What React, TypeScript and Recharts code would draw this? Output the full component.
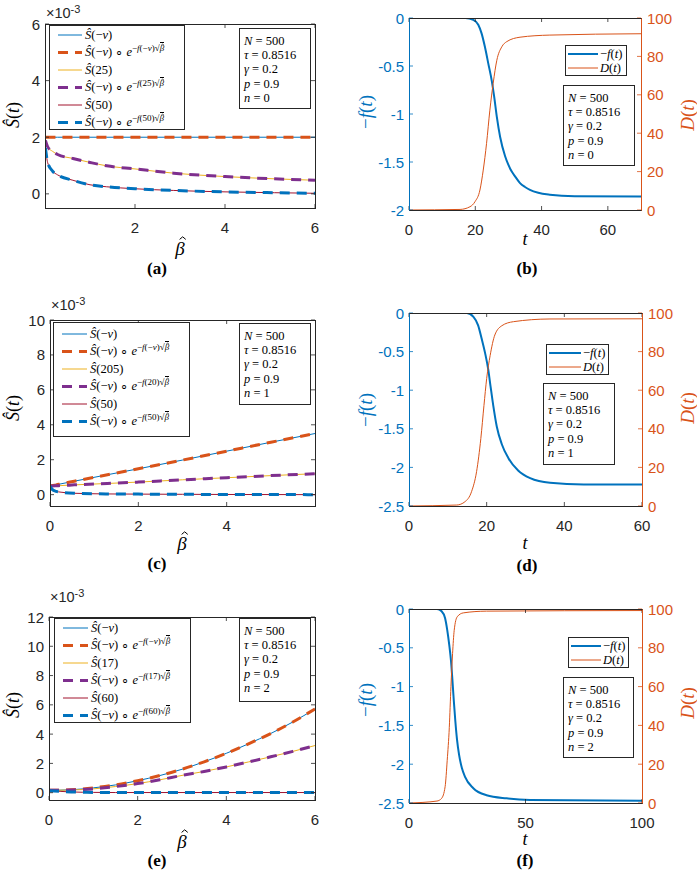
import React from 'react';
import { LineChart, Line, XAxis, YAxis } from 'recharts';

const SANS = '"Liberation Sans", Arial, Helvetica, sans-serif';
const SERIF = '"Liberation Serif", "Times New Roman", serif';
const AX = '#262626';
const BLUE = '#0072BD';
const ORANGE = '#D95319';
const YELLOW = '#EDB120';
const PURPLE = '#7E2F8E';
const RED = '#A2142F';
const DASH = '10 7';

// ---------- panel (a) ----------
const aBeta = [0.01, 0.06, 0.17, 0.28, 0.62, 1.0, 1.37, 2.0, 2.86, 4.0, 5.1, 6.0];
const aSnu = [2, 2, 2, 2, 2, 2, 2, 2, 2, 2, 2, 2];
const aS25 = [1.89, 1.66, 1.5, 1.39, 1.25, 1.11, 0.99, 0.88, 0.73, 0.61, 0.53, 0.48];
const aS50 = [1.62, 1.1, 0.8, 0.67, 0.48, 0.32, 0.25, 0.18, 0.12, 0.07, 0.04, 0.02];
const aSolidArgs = ['−ν', '25', '50'];
const aExpArgs = ['−ν', '25', '50'];
const aParams = ['500', '0.8516', '0.2', '0.9', '0'];

// ---------- panel (c) ----------
const cBeta = [0, 0.05, 0.14, 0.25, 0.55, 1.3, 2, 3, 4, 5, 6];
const cSnu = [0.49, 0.52, 0.56, 0.62, 0.77, 1.14, 1.48, 1.98, 2.49, 3.0, 3.5];
const cS20 = [0.49, 0.5, 0.51, 0.52, 0.56, 0.64, 0.72, 0.85, 0.97, 1.09, 1.2];
const cS50 = [0.47, 0.3, 0.19, 0.14, 0.08, 0.04, 0.03, 0.02, 0.01, 0.005, 0.0];
const cSolidArgs = ['−ν', '205', '50'];
const cExpArgs = ['−ν', '20', '50'];
const cParams = ['500', '0.8516', '0.2', '0.9', '1'];

// ---------- panel (e) ----------
const eBeta = [0, 0.5, 1, 1.5, 2, 2.5, 3, 3.5, 4, 4.5, 5, 5.5, 6];
const eSnu = [0.16, 0.2, 0.33, 0.53, 0.82, 1.17, 1.6, 2.11, 2.69, 3.34, 4.04, 4.83, 5.72];
const eS17 = [0.16, 0.18, 0.26, 0.42, 0.62, 0.88, 1.18, 1.45, 1.76, 2.1, 2.45, 2.82, 3.22];
const eS60 = [0.14, 0.05, 0.02, 0.01, 0.01, 0.01, 0.01, 0.01, 0.01, 0.01, 0.01, 0.01, 0.01];
const eSolidArgs = ['−ν', '17', '60'];
const eExpArgs = ['−ν', '17', '60'];
const eParams = ['500', '0.8516', '0.2', '0.9', '2'];

// ---------- panel (b) ----------
const bT = [0, 10, 17, 19.4, 20.9, 21.9, 22.9, 23.9, 25, 25.7, 26.5, 27.5, 29, 30, 31, 32, 33.5, 35, 36.5, 39, 42.5, 50, 70];
const bF = [0, 0, 0, -0.02, -0.07, -0.16, -0.3, -0.47, -0.66, -0.82, -1.03, -1.24, -1.44, -1.53, -1.6, -1.65, -1.72, -1.76, -1.79, -1.82, -1.84, -1.856, -1.86];
const bDT = [0, 15.4, 18.4, 19.9, 21.4, 22.4, 23.4, 24.4, 25.4, 26.5, 28, 29.5, 33.5, 42.5, 70];
const bD = [0, 0.3, 1.7, 4.3, 10.4, 20.8, 34.7, 52, 66, 78, 85, 87.7, 90, 91.1, 91.8];
const bParams = ['500', '0.8516', '0.2', '0.9', '0'];

// ---------- panel (d) ----------
const dT = [0, 14.9, 16.6, 17.8, 18.7, 19.6, 20.4, 21, 21.7, 22.6, 23.9, 25.6, 28.1, 31.2, 36.3, 45, 60];
const dF = [0, 0, -0.05, -0.16, -0.33, -0.52, -0.73, -0.95, -1.2, -1.47, -1.7, -1.88, -2.04, -2.14, -2.2, -2.22, -2.22];
const dDT = [0, 12.3, 14.4, 16.1, 17.4, 18.5, 19.3, 20, 20.9, 22.1, 23.9, 26.9, 36.3, 60];
const dD = [0, 0.5, 2.2, 7.4, 17.8, 35, 52, 66, 78, 88.6, 93.4, 95.5, 96.9, 97];
const dParams = ['500', '0.8516', '0.2', '0.9', '1'];

// ---------- panel (f) ----------
const fT = [0, 12, 14, 15.5, 16.4, 17.3, 18.0, 18.6, 19.2, 19.9, 20.6, 21.5, 22.7, 24, 27.6, 33.3, 41.9, 52, 100];
const fF = [0, 0, -0.03, -0.12, -0.27, -0.47, -0.66, -0.9, -1.17, -1.45, -1.68, -1.88, -2.05, -2.16, -2.31, -2.4, -2.44, -2.46, -2.47];
const fDT = [0, 12, 14, 15.5, 16.4, 17.3, 18, 18.7, 19.4, 20.7, 23.3, 33.3, 100];
const fD = [0, 1, 2.4, 8.4, 22, 39, 60, 77, 89, 96, 98, 98.9, 99.2];
const fParams = ['500', '0.8516', '0.2', '0.9', '2'];

const paramNames = ['N', 'τ', 'γ', 'p', 'n'];

const betaTicksA = [2, 4, 6];
const betaTicksC = [0, 2, 4];
const betaTicksE = [0, 2, 4, 6];
const sTicksA = [0, 2, 4, 6];
const sTicksC = [0, 2, 4, 6, 8, 10];
const sTicksE = [0, 2, 4, 6, 8, 10, 12];
const fTicks2 = [-2, -1.5, -1, -0.5, 0];
const fTicks25 = [-2.5, -2, -1.5, -1, -0.5, 0];
const dTicks = [0, 20, 40, 60, 80, 100];

type Pt = { x: number; y: number };
const toPts = (xs: number[], ys: number[]): Pt[] => xs.map((x, i) => ({ x, y: ys[i] }));

interface Series { pts: Pt[]; color: string; width: number; dash?: string; right?: boolean }
interface AxisCfg { domain: [number, number]; ticks: number[]; color: string }
interface PanelCfg { L: number; T: number; R: number; B: number; x: AxisCfg; y: AxisCfg; y2?: AxisCfg; series: Series[] }

function Panel({ cfg }: { cfg: PanelCfg }) {
  const pw = cfg.R - cfg.L;
  const ph = cfg.B - cfg.T;
  const ML = 52, MT = 12, MB = 34;
  const MR = cfg.y2 ? 52 : 12;
  const W = ML + pw + MR;
  const H = MT + ph + MB;
  const bot = MT + ph;
  const rgt = ML + pw;
  const TL = 4;
  const fs = 15;
  const xTick = (p: any) => (
    <g>
      <line x1={p.x} x2={p.x} y1={bot} y2={bot - TL} stroke={AX} strokeWidth={0.8} />
      <line x1={p.x} x2={p.x} y1={MT} y2={MT + TL} stroke={AX} strokeWidth={0.8} />
      <text x={p.x} y={bot + 19} textAnchor="middle" dominantBaseline="central" fill={cfg.x.color} fontSize={fs} fontFamily={SANS}>
        {String(p.payload.value)}
      </text>
    </g>
  );
  const yTick = (p: any) => (
    <g>
      <line x1={ML} x2={ML + TL} y1={p.y} y2={p.y} stroke={cfg.y.color} strokeWidth={0.8} />
      {!cfg.y2 && <line x1={rgt} x2={rgt - TL} y1={p.y} y2={p.y} stroke={AX} strokeWidth={0.8} />}
      <text x={ML - 5} y={p.y} textAnchor="end" dominantBaseline="central" fill={cfg.y.color} fontSize={fs} fontFamily={SANS}>
        {String(p.payload.value)}
      </text>
    </g>
  );
  const y2Tick = (p: any) => (
    <g>
      <line x1={rgt} x2={rgt - TL} y1={p.y} y2={p.y} stroke={cfg.y2 ? cfg.y2.color : AX} strokeWidth={0.8} />
      <text x={rgt + 6} y={p.y} textAnchor="start" dominantBaseline="central" fill={cfg.y2 ? cfg.y2.color : AX} fontSize={fs} fontFamily={SANS}>
        {String(p.payload.value)}
      </text>
    </g>
  );
  return (
    <div style={{ position: 'absolute', left: cfg.L - ML, top: cfg.T - MT, width: W, height: H }}>
      <LineChart width={W} height={H} margin={{ top: MT, right: cfg.y2 ? 0 : MR, bottom: 0, left: 0 }}>
        <XAxis type="number" dataKey="x" domain={cfg.x.domain} ticks={cfg.x.ticks} allowDataOverflow interval={0}
          height={MB} axisLine={false} tickLine={false} tick={xTick} />
        <YAxis yAxisId="l" type="number" dataKey="y" domain={cfg.y.domain} ticks={cfg.y.ticks} allowDataOverflow interval={0}
          width={ML} axisLine={false} tickLine={false} tick={yTick} />
        {cfg.y2 && (
          <YAxis yAxisId="r" orientation="right" type="number" dataKey="y" domain={cfg.y2.domain} ticks={cfg.y2.ticks}
            allowDataOverflow interval={0} width={MR} axisLine={false} tickLine={false} tick={y2Tick} />
        )}
        {cfg.series.map((s, i) => (
          <Line key={i} yAxisId={s.right ? 'r' : 'l'} data={s.pts} dataKey="y" type="monotone" stroke={s.color}
            strokeWidth={s.width} strokeDasharray={s.dash} dot={false} activeDot={false} isAnimationActive={false} />
        ))}
      </LineChart>
      <div style={{
        position: 'absolute', left: ML, top: MT, width: pw + 1, height: ph + 1, boxSizing: 'border-box', pointerEvents: 'none',
        borderTop: `1px solid ${AX}`, borderBottom: `1px solid ${AX}`,
        borderLeft: `1px solid ${cfg.y.color}`, borderRight: `1px solid ${cfg.y2 ? cfg.y2.color : AX}`,
      }} />
    </div>
  );
}

// beta with a drawn circumflex above it (the hat is a path, not a glyph)
function Hat({ ch, top = '-0.06em', sw = 1 }: { ch: string; top?: string; sw?: number }) {
  return (
    <span style={{ position: 'relative', display: 'inline-block', fontStyle: 'italic' }}>
      {ch}
      <svg viewBox="0 0 10 5" preserveAspectRatio="none"
        style={{ position: 'absolute', left: '0.2em', top, width: '0.36em', height: '0.17em', overflow: 'visible' }}>
        <polyline points="0.5,4.5 5,0.5 9.5,4.5" fill="none" stroke="currentColor" strokeWidth={sw} vectorEffect="non-scaling-stroke" />
      </svg>
    </span>
  );
}

const renderArg = (s: string) => (s === '−ν' ? <>−<i>ν</i></> : s);
const sLab = (arg: string) => <span><i>Ŝ</i>({renderArg(arg)})</span>;
const eLab = (arg: string) => (
  <span>
    <i>Ŝ</i>(−<i>ν</i>) ∘ <i>e</i>
    <span style={{ fontSize: '0.72em', position: 'relative', top: '-0.55em' }}>
      −<i>f</i>({renderArg(arg)})√<span style={{ borderTop: '0.5px solid #000' }}><Hat ch="β" top="0.02em" sw={0.7} /></span>
    </span>
  </span>
);

interface LegItem { color: string; width: number; dash?: string; label: React.ReactNode; h: number }
function LegendBox({ left, top, width, height, lineX, lineLen, textGap, items, fontSize, padTop }:
  { left: number; top: number; width: number; height: number; lineX: number; lineLen: number; textGap: number; items: LegItem[]; fontSize: number; padTop: number }) {
  return (
    <div style={{ position: 'absolute', left, top, width, height, boxSizing: 'border-box', border: `1px solid ${AX}`, background: '#fff', paddingTop: padTop }}>
      {items.map((it, i) => (
        <div key={i} style={{ display: 'flex', alignItems: 'center', height: it.h, whiteSpace: 'nowrap' }}>
          <svg width={lineX + lineLen} height={it.h} style={{ flex: 'none' }}>
            <line x1={lineX} x2={lineX + lineLen} y1={it.h / 2} y2={it.h / 2} stroke={it.color} strokeWidth={it.width} strokeDasharray={it.dash} />
          </svg>
          <span style={{ marginLeft: textGap, fontFamily: SERIF, fontSize, color: '#000', lineHeight: 1 }}>{it.label}</span>
        </div>
      ))}
    </div>
  );
}

function ParamBox({ left, top, width, height, values }: { left: number; top: number; width: number; height: number; values: string[] }) {
  return (
    <div style={{ position: 'absolute', left, top, width, height, boxSizing: 'border-box', border: `1px solid ${AX}`, background: '#fff', padding: '5px 0 0 4px', fontFamily: SERIF, fontSize: 12.5, lineHeight: '14.2px', color: '#000', whiteSpace: 'nowrap' }}>
      {paramNames.map((n, i) => (
        <div key={i}><i>{n}</i> = {values[i]}</div>
      ))}
    </div>
  );
}

function Txt({ x, y, children, size, color = '#000', rot = false, bold = false, font = SERIF }:
  { x: number; y: number; children: React.ReactNode; size: number; color?: string; rot?: boolean; bold?: boolean; font?: string }) {
  return (
    <div style={{
      position: 'absolute', left: x, top: y, transform: `translate(-50%, -50%)${rot ? ' rotate(-90deg)' : ''}`,
      fontFamily: font, fontSize: size, color, fontWeight: bold ? 'bold' : 'normal',
      whiteSpace: 'nowrap', lineHeight: 1,
    }}>{children}</div>
  );
}

function Exp({ x, y }: { x: number; y: number }) {
  return (
    <div style={{ position: 'absolute', left: x, top: y, fontFamily: SANS, fontSize: 14.5, color: AX, whiteSpace: 'nowrap', lineHeight: 1 }}>
      ×10<span style={{ fontSize: 11, position: 'relative', top: -5 }}>-3</span>
    </div>
  );
}

function sPanel(L: number, T: number, R: number, B: number, xs: number[], s1: number[], s2: number[], s3: number[],
  xTicks: number[], yDom: [number, number], yTicks: number[]): PanelCfg {
  return {
    L, T, R, B,
    x: { domain: [0, 6], ticks: xTicks, color: AX },
    y: { domain: yDom, ticks: yTicks, color: AX },
    series: [
      { pts: toPts(xs, s1), color: BLUE, width: 1 },
      { pts: toPts(xs, s1), color: ORANGE, width: 3, dash: DASH },
      { pts: toPts(xs, s2), color: YELLOW, width: 1 },
      { pts: toPts(xs, s2), color: PURPLE, width: 3, dash: DASH },
      { pts: toPts(xs, s3), color: RED, width: 1 },
      { pts: toPts(xs, s3), color: BLUE, width: 3, dash: DASH },
    ],
  };
}

function fPanel(L: number, T: number, R: number, B: number, xMax: number, xTicks: number[], t: number[], f: number[], dt: number[], d: number[],
  fMin: number, fTicks: number[]): PanelCfg {
  return {
    L, T, R, B,
    x: { domain: [0, xMax], ticks: xTicks, color: AX },
    y: { domain: [fMin, 0], ticks: fTicks, color: BLUE },
    y2: { domain: [0, 100], ticks: dTicks, color: ORANGE },
    series: [
      { pts: toPts(t, f), color: BLUE, width: 2 },
      { pts: toPts(dt, d), color: ORANGE, width: 1, right: true },
    ],
  };
}

const sLegend = (solid: string[], exp: string[]): LegItem[] => [
  { color: BLUE, width: 1, label: sLab(solid[0]), h: 16 },
  { color: ORANGE, width: 3, dash: DASH, label: eLab(exp[0]), h: 19 },
  { color: YELLOW, width: 1, label: sLab(solid[1]), h: 16 },
  { color: PURPLE, width: 3, dash: DASH, label: eLab(exp[1]), h: 19 },
  { color: RED, width: 1, label: sLab(solid[2]), h: 16 },
  { color: BLUE, width: 3, dash: DASH, label: eLab(exp[2]), h: 19 },
];

const fLegend: LegItem[] = [
  { color: BLUE, width: 2, label: <span>−<i>f</i>(<i>t</i>)</span>, h: 14 },
  { color: ORANGE, width: 1, label: <span><i>D</i>(<i>t</i>)</span>, h: 14 },
];

const SY = <span><i>Ŝ</i>(<i>t</i>)</span>;
const BH = <Hat ch="β" top="-0.08em" />;
const FY = <span>−<i>f</i>(<i>t</i>)</span>;
const DY = <span><i>D</i>(<i>t</i>)</span>;

export default function App() {
  const pa = sPanel(45, 24, 315, 208, aBeta, aSnu, aS25, aS50, betaTicksA, [-0.5, 6], sTicksA);
  const pc = sPanel(50, 320, 315, 506, cBeta, cSnu, cS20, cS50, betaTicksC, [-0.65, 10], sTicksC);
  const pe = sPanel(49, 617, 315, 800, eBeta, eSnu, eS17, eS60, betaTicksE, [-0.5, 12], sTicksE);
  const pb = fPanel(409, 18, 641, 210, 70, [0, 20, 40, 60], bT, bF, bDT, bD, -2, fTicks2);
  const pd = fPanel(409, 313, 642, 506, 60, [0, 20, 40, 60], dT, dF, dDT, dD, -2.5, fTicks25);
  const pf = fPanel(409, 609, 642, 803, 100, [0, 50, 100], fT, fF, fDT, fD, -2.5, fTicks25);
  return (
    <div style={{ position: 'absolute', left: 0, top: 0, width: 697, height: 871, background: '#fff', overflow: 'hidden' }}>
      <Panel cfg={pa} />
      <Panel cfg={pb} />
      <Panel cfg={pc} />
      <Panel cfg={pd} />
      <Panel cfg={pe} />
      <Panel cfg={pf} />

      <LegendBox left={49} top={25} width={136} height={105} lineX={8} lineLen={24} textGap={3} fontSize={12.5} padTop={1} items={sLegend(aSolidArgs, aExpArgs)} />
      <LegendBox left={53} top={322} width={137} height={115} lineX={8} lineLen={25} textGap={3} fontSize={12.5} padTop={3} items={sLegend(cSolidArgs, cExpArgs)} />
      <LegendBox left={54} top={618} width={137} height={105} lineX={8} lineLen={25} textGap={3} fontSize={12.5} padTop={1} items={sLegend(eSolidArgs, eExpArgs)} />

      <LegendBox left={565} top={45} width={62} height={31} lineX={2} lineLen={30} textGap={2} fontSize={12.5} padTop={1} items={fLegend} />
      <LegendBox left={546} top={344} width={63} height={31} lineX={2} lineLen={32} textGap={2} fontSize={12.5} padTop={1} items={fLegend} />
      <LegendBox left={568} top={637} width={61} height={31} lineX={2} lineLen={30} textGap={2} fontSize={12.5} padTop={1} items={fLegend} />

      <ParamBox left={239} top={28} width={72} height={81} values={aParams} />
      <ParamBox left={563} top={85} width={72} height={81} values={bParams} />
      <ParamBox left={239} top={323} width={72} height={82} values={cParams} />
      <ParamBox left={543} top={383} width={72} height={82} values={dParams} />
      <ParamBox left={239} top={618} width={72} height={84} values={eParams} />
      <ParamBox left={563} top={677} width={71} height={81} values={fParams} />

      <Exp x={46} y={6} />
      <Exp x={51} y={298} />
      <Exp x={50} y={590} />

      <Txt x={13} y={115} size={18} rot>{SY}</Txt>
      <Txt x={13} y={408} size={18} rot>{SY}</Txt>
      <Txt x={13} y={705} size={18} rot>{SY}</Txt>
      <Txt x={180} y={248} size={19}>{BH}</Txt>
      <Txt x={182} y={543} size={19}>{BH}</Txt>
      <Txt x={182} y={841} size={19}>{BH}</Txt>

      <Txt x={365} y={112} size={19} rot color={BLUE}>{FY}</Txt>
      <Txt x={365} y={410} size={19} rot color={BLUE}>{FY}</Txt>
      <Txt x={365} y={700} size={19} rot color={BLUE}>{FY}</Txt>
      <Txt x={687} y={115} size={19} rot color={ORANGE}>{DY}</Txt>
      <Txt x={687} y={408} size={19} rot color={ORANGE}>{DY}</Txt>
      <Txt x={687} y={703} size={19} rot color={ORANGE}>{DY}</Txt>
      <Txt x={525} y={239} size={18}><i>t</i></Txt>
      <Txt x={525} y={543} size={18}><i>t</i></Txt>
      <Txt x={525} y={839} size={18}><i>t</i></Txt>

      <Txt x={157} y={268} size={17} bold>(a)</Txt>
      <Txt x={527} y={268} size={17} bold>(b)</Txt>
      <Txt x={157} y={563} size={17} bold>(c)</Txt>
      <Txt x={527} y={565} size={17} bold>(d)</Txt>
      <Txt x={157} y={860} size={17} bold>(e)</Txt>
      <Txt x={525} y={860} size={17} bold>(f)</Txt>
    </div>
  );
}
